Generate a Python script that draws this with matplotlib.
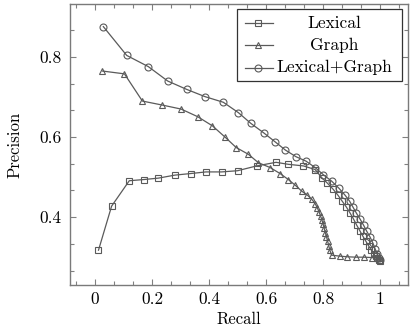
import matplotlib
matplotlib.use("Agg")
import matplotlib.pyplot as plt
from matplotlib.ticker import MultipleLocator, AutoMinorLocator, FuncFormatter
from matplotlib.patches import Rectangle

plt.rcParams['font.family'] = ['cmr10', 'DejaVu Serif']
plt.rcParams['axes.formatter.use_mathtext'] = True

# precision / recall curves
lex_recall = [0.012, 0.058, 0.12, 0.172, 0.222, 0.28, 0.336, 0.389, 0.444, 0.5,
              0.567, 0.635, 0.678, 0.731, 0.772, 0.795, 0.815, 0.835, 0.852, 0.867,
              0.882, 0.895, 0.907, 0.918, 0.929, 0.94, 0.95, 0.96, 0.969, 0.977,
              0.984, 0.99, 0.995, 0.999]
lex_prec = [0.3175, 0.4275, 0.491, 0.494, 0.4975, 0.505, 0.509, 0.513, 0.513, 0.516,
            0.528, 0.537, 0.532, 0.528, 0.519, 0.499, 0.485, 0.47, 0.455, 0.44,
            0.425, 0.41, 0.395, 0.38, 0.366, 0.352, 0.34, 0.328, 0.318, 0.309,
            0.302, 0.297, 0.293, 0.29]

graph_recall = [0.026, 0.103, 0.166, 0.236, 0.302, 0.36, 0.412, 0.456, 0.495, 0.538,
                0.573, 0.614, 0.649, 0.678, 0.702, 0.725, 0.745, 0.76, 0.772, 0.78,
                0.786, 0.791, 0.796, 0.8, 0.804, 0.808, 0.812, 0.816, 0.82, 0.824,
                0.83, 0.86, 0.885, 0.915, 0.944, 0.973, 0.994, 1.0]
graph_prec = [0.765, 0.758, 0.69, 0.68, 0.67, 0.651, 0.628, 0.60, 0.574, 0.557,
              0.536, 0.524, 0.509, 0.494, 0.48, 0.465, 0.455, 0.445, 0.434, 0.423,
              0.413, 0.403, 0.393, 0.383, 0.372, 0.361, 0.351, 0.34, 0.328, 0.317,
              0.305, 0.3025, 0.301, 0.30, 0.30, 0.299, 0.297, 0.293]

both_recall = [0.029, 0.111, 0.187, 0.255, 0.322, 0.386, 0.45, 0.503, 0.547, 0.591,
               0.632, 0.668, 0.705, 0.74, 0.772, 0.801, 0.83, 0.856, 0.877, 0.893,
               0.905, 0.917, 0.93, 0.942, 0.953, 0.965, 0.975, 0.983, 0.99, 0.995, 1.0]
both_prec = [0.876, 0.804, 0.776, 0.74, 0.719, 0.701, 0.687, 0.661, 0.634, 0.611,
             0.588, 0.5675, 0.551, 0.54, 0.524, 0.506, 0.49, 0.472, 0.455, 0.44,
             0.425, 0.41, 0.395, 0.38, 0.365, 0.35, 0.335, 0.32, 0.307, 0.298, 0.292]

labels = ["Lexical", "Graph", "Lexical+Graph"]
markers = ["s", "^", "o"]
msizes = [4.6, 3.8, 5.0]
col = "#5a5a5a"

fig = plt.figure(figsize=(4.16, 3.30), dpi=100)
ax = fig.add_axes([70 / 416, 1 - 285 / 330, 338 / 416, 281 / 330])

series = [(lex_recall, lex_prec), (graph_recall, graph_prec), (both_recall, both_prec)]
for (xs, ys), m, ms in zip(series, markers, msizes):
    ax.plot(xs, ys, color=col, lw=0.9, marker=m, ms=ms, mfc="none", mec=col, mew=0.8)

ax.set_xlim(-0.088, 1.098)
ax.set_ylim(0.2305, 0.9325)
ax.xaxis.set_major_locator(MultipleLocator(0.2))
ax.yaxis.set_major_locator(MultipleLocator(0.2))
ax.xaxis.set_minor_locator(AutoMinorLocator(3))
ax.yaxis.set_minor_locator(AutoMinorLocator(3))
ax.xaxis.set_major_formatter(FuncFormatter(lambda v, p: "%g" % round(v, 2)))
ax.yaxis.set_major_formatter(FuncFormatter(lambda v, p: "%g" % round(v, 2)))
ax.tick_params(which="both", direction="in", top=True, right=True, color="#808080", width=0.8)
ax.tick_params(which="major", length=4, labelsize=12.5)
ax.tick_params(axis="x", which="major", pad=5)
ax.tick_params(axis="y", which="major", pad=6)
ax.tick_params(which="minor", length=3)
for s in ax.spines.values():
    s.set_color("#7a7a7a")
    s.set_linewidth(1.0)

ax.set_xlabel("Recall", fontsize=12, labelpad=3.5)
ax.set_ylabel("Precision", fontsize=12, labelpad=12)

# legend box drawn by hand so the text sits centred like pgfplots
ax.add_patch(Rectangle((0.494, 0.726), 0.488, 0.256, transform=ax.transAxes,
                       fc="white", ec="#333333", lw=0.9, zorder=5))
rows = [0.931, 0.854, 0.773]
for lab, m, ms, yy in zip(labels, markers, msizes, rows):
    ax.plot([0.518, 0.601], [yy, yy], transform=ax.transAxes, color=col, lw=0.9, zorder=6)
    ax.plot([0.556], [yy], transform=ax.transAxes, color=col, marker=m, ms=ms,
            mfc="none", mec=col, mew=0.8, zorder=6)
    ax.text(0.783, yy, lab, transform=ax.transAxes, ha="center", va="center",
            fontsize=12.5, zorder=6)

fig.savefig("out.png", dpi=100)
